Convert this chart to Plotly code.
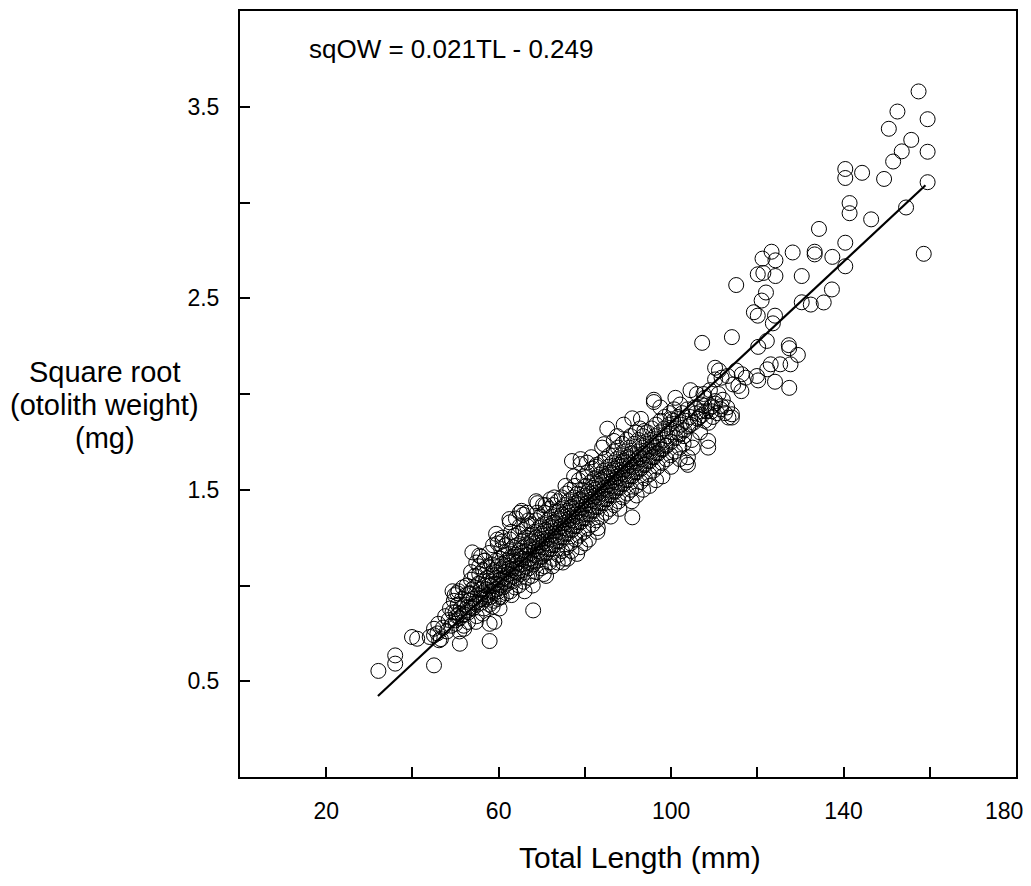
import plotly.graph_objects as go

# ---- regression line (from the printed equation) ----
SLOPE = 0.021
INTERCEPT = -0.249
FIT_TL = [32, 159]

TL_BAND = [
    46.0, 46.6,
    47.1, 47.6,
    48.0, 48.4, 48.7,
    49.0, 49.3, 49.6, 49.8,
    50.0, 50.3, 50.5, 50.7, 50.9,
    51.0, 51.2, 51.5, 51.7, 51.9,
    52.0, 52.2, 52.4, 52.6, 52.8, 52.9,
    53.0, 53.2, 53.4, 53.6, 53.8, 53.9,
    54.0, 54.2, 54.4, 54.5, 54.7, 54.8, 54.9,
    55.0, 55.2, 55.3, 55.5, 55.7, 55.8, 55.9,
    56.0, 56.1, 56.3, 56.4, 56.6, 56.7, 56.8, 56.9,
    57.0, 57.1, 57.3, 57.4, 57.6, 57.7, 57.8, 57.9,
    58.0, 58.1, 58.2, 58.4, 58.5, 58.6, 58.7, 58.8, 58.9,
    59.0, 59.1, 59.2, 59.4, 59.5, 59.6, 59.7, 59.8, 59.9,
    60.0, 60.1, 60.2, 60.3, 60.4, 60.5, 60.6, 60.7, 60.8, 60.9,
    61.0, 61.1, 61.2, 61.4, 61.5, 61.6, 61.7, 61.8, 61.9,
    62.0, 62.1, 62.2, 62.3, 62.4, 62.5, 62.6, 62.7, 62.8, 62.9,
    63.0, 63.1, 63.2, 63.4, 63.5, 63.6, 63.7, 63.8, 63.9,
    64.0, 64.1, 64.2, 64.3, 64.4, 64.5, 64.6, 64.7, 64.8, 64.9,
    65.0, 65.1, 65.2, 65.4, 65.5, 65.6, 65.7, 65.8, 65.9,
    66.0, 66.1, 66.2, 66.3, 66.4, 66.5, 66.6, 66.7, 66.8, 66.9,
    67.0, 67.1, 67.2, 67.3, 67.4, 67.5, 67.6, 67.7, 67.8, 67.9,
    68.0, 68.1, 68.2, 68.3, 68.4, 68.5, 68.6, 68.7, 68.8, 68.9,
    69.0, 69.1, 69.2, 69.4, 69.5, 69.6, 69.7, 69.8, 69.9,
    70.0, 70.1, 70.2, 70.3, 70.4, 70.5, 70.6, 70.7, 70.8, 70.9, 70.45,
    71.0, 71.1, 71.2, 71.4, 71.5, 71.6, 71.7, 71.8, 71.9,
    72.0, 72.1, 72.2, 72.3, 72.4, 72.5, 72.6, 72.7, 72.8, 72.9, 72.45,
    73.0, 73.1, 73.2, 73.4, 73.5, 73.6, 73.7, 73.8, 73.9,
    74.0, 74.1, 74.2, 74.3, 74.4, 74.5, 74.6, 74.7, 74.8, 74.9,
    75.0, 75.1, 75.2, 75.4, 75.5, 75.6, 75.7, 75.8, 75.9,
    76.0, 76.1, 76.2, 76.3, 76.4, 76.5, 76.6, 76.7, 76.8, 76.9,
    77.0, 77.1, 77.2, 77.4, 77.5, 77.6, 77.7, 77.8, 77.9,
    78.0, 78.1, 78.2, 78.3, 78.4, 78.5, 78.6, 78.7, 78.8, 78.9,
    79.0, 79.1, 79.2, 79.4, 79.5, 79.6, 79.7, 79.8, 79.9,
    80.0, 80.1, 80.2, 80.3, 80.4, 80.5, 80.6, 80.7, 80.8, 80.9,
    81.0, 81.1, 81.2, 81.4, 81.5, 81.6, 81.7, 81.8, 81.9,
    82.0, 82.1, 82.2, 82.3, 82.4, 82.5, 82.6, 82.7, 82.8, 82.9,
    83.0, 83.1, 83.2, 83.4, 83.5, 83.6, 83.7, 83.8, 83.9,
    84.0, 84.1, 84.2, 84.4, 84.5, 84.6, 84.7, 84.8, 84.9,
    85.0, 85.1, 85.2, 85.4, 85.5, 85.6, 85.7, 85.8, 85.9,
    86.0, 86.1, 86.2, 86.4, 86.5, 86.6, 86.7, 86.8, 86.9,
    87.0, 87.1, 87.2, 87.4, 87.5, 87.6, 87.7, 87.8, 87.9,
    88.0, 88.1, 88.2, 88.4, 88.5, 88.6, 88.7, 88.8, 88.9,
    89.0, 89.1, 89.2, 89.4, 89.5, 89.6, 89.7, 89.8, 89.9,
    90.0, 90.1, 90.2, 90.3, 90.4, 90.5, 90.6, 90.7, 90.8, 90.9,
    91.0, 91.1, 91.3, 91.4, 91.6, 91.7, 91.8, 91.9,
    92.0, 92.1, 92.3, 92.4, 92.6, 92.7, 92.8, 92.9,
    93.0, 93.2, 93.3, 93.5, 93.6, 93.8, 93.9,
    94.0, 94.2, 94.3, 94.5, 94.6, 94.8, 94.9,
    95.0, 95.2, 95.3, 95.5, 95.6, 95.8, 95.9,
    96.0, 96.2, 96.3, 96.5, 96.6, 96.8, 96.9,
    97.0, 97.2, 97.4, 97.5, 97.7, 97.9,
    98.0, 98.2, 98.4, 98.5, 98.7, 98.9,
    99.0, 99.2, 99.5, 99.7, 99.9,
    100.0, 100.2, 100.5, 100.7, 100.9,
    101.0, 101.3, 101.6, 101.9,
    102.0, 102.3, 102.6, 102.9,
    103.0, 103.4, 103.8,
    104.0, 104.4, 104.8,
    105.2, 105.7,
    106.2, 106.7,
    107.2, 107.7,
    108.2, 108.7,
    109.2, 109.7,
    110.2, 110.7,
    111.5,
    112.5,
]
SQ_BAND = [
    0.80, 0.72,
    0.78, 0.84,
    0.76, 0.82, 0.88,
    0.79, 0.86, 0.92, 0.95,
    0.80, 0.84, 0.90, 0.97, 0.76,
    0.83, 0.88, 0.93, 0.99, 0.79,
    0.85, 0.90, 0.95, 1.00, 0.87, 0.81,
    0.86, 0.92, 0.96, 1.03, 0.89, 0.98,
    0.88, 0.93, 0.99, 1.05, 0.91, 1.12, 0.84,
    0.90, 0.95, 1.01, 1.06, 0.93, 0.98, 1.15,
    0.91, 0.96, 1.02, 1.08, 0.88, 1.00, 1.13, 0.94,
    0.93, 0.98, 1.04, 1.10, 0.95, 1.00, 1.17, 0.90,
    0.94, 1.00, 1.05, 1.11, 0.97, 1.02, 1.21, 0.92, 1.08,
    0.96, 1.01, 1.07, 1.13, 0.98, 1.04, 1.24, 0.93, 1.10,
    0.97, 1.03, 1.08, 1.14, 1.00, 1.05, 1.19, 0.94, 1.11, 1.25,
    0.99, 1.04, 1.10, 1.16, 1.02, 1.07, 1.21, 0.96, 1.13,
    1.01, 1.06, 1.12, 1.18, 1.03, 1.09, 1.24, 0.97, 1.15, 1.28,
    1.02, 1.08, 1.13, 1.20, 1.05, 1.10, 1.26, 0.99, 1.16,
    1.04, 1.09, 1.15, 1.21, 1.07, 1.12, 1.27, 1.00, 1.18, 1.31,
    1.06, 1.11, 1.17, 1.23, 1.08, 1.14, 1.29, 1.02, 1.20,
    1.07, 1.13, 1.18, 1.25, 1.10, 1.16, 1.31, 1.04, 1.21, 1.34,
    1.09, 1.14, 1.20, 1.26, 1.12, 1.17, 1.32, 1.05, 1.23, 1.00,
    1.11, 1.16, 1.22, 1.28, 1.13, 1.19, 1.34, 1.07, 1.25, 1.38,
    1.13, 1.18, 1.24, 1.30, 1.15, 1.21, 1.36, 1.09, 1.27,
    1.15, 1.20, 1.26, 1.32, 1.17, 1.23, 1.38, 1.10, 1.29, 1.42, 1.06,
    1.17, 1.22, 1.28, 1.34, 1.19, 1.25, 1.40, 1.12, 1.31,
    1.19, 1.24, 1.30, 1.36, 1.21, 1.27, 1.42, 1.14, 1.33, 1.46, 1.10,
    1.21, 1.26, 1.32, 1.38, 1.23, 1.29, 1.44, 1.16, 1.35,
    1.23, 1.28, 1.34, 1.40, 1.25, 1.31, 1.46, 1.18, 1.37, 1.12,
    1.25, 1.30, 1.36, 1.42, 1.27, 1.33, 1.48, 1.20, 1.39,
    1.27, 1.32, 1.38, 1.44, 1.29, 1.35, 1.50, 1.22, 1.41, 1.18,
    1.29, 1.34, 1.40, 1.46, 1.31, 1.37, 1.52, 1.24, 1.43,
    1.31, 1.36, 1.42, 1.48, 1.33, 1.39, 1.55, 1.26, 1.45, 1.20,
    1.33, 1.38, 1.44, 1.50, 1.35, 1.41, 1.57, 1.28, 1.47,
    1.35, 1.40, 1.46, 1.52, 1.37, 1.43, 1.59, 1.30, 1.49, 1.24,
    1.37, 1.42, 1.48, 1.54, 1.39, 1.45, 1.61, 1.32, 1.51,
    1.39, 1.44, 1.50, 1.56, 1.41, 1.47, 1.62, 1.34, 1.53, 1.28,
    1.41, 1.46, 1.52, 1.58, 1.43, 1.49, 1.64, 1.36, 1.55,
    1.43, 1.48, 1.54, 1.60, 1.45, 1.51, 1.66, 1.38, 1.57,
    1.45, 1.50, 1.56, 1.62, 1.47, 1.53, 1.68, 1.40, 1.59,
    1.47, 1.52, 1.58, 1.64, 1.49, 1.55, 1.70, 1.42, 1.61,
    1.49, 1.54, 1.60, 1.66, 1.51, 1.57, 1.72, 1.44, 1.63,
    1.51, 1.56, 1.62, 1.68, 1.53, 1.59, 1.74, 1.46, 1.65,
    1.53, 1.58, 1.64, 1.70, 1.55, 1.61, 1.76, 1.48, 1.67,
    1.55, 1.60, 1.66, 1.72, 1.57, 1.63, 1.78, 1.50, 1.69, 1.44,
    1.57, 1.62, 1.68, 1.74, 1.59, 1.65, 1.80, 1.52,
    1.59, 1.64, 1.70, 1.76, 1.61, 1.67, 1.82, 1.54,
    1.61, 1.66, 1.72, 1.78, 1.63, 1.69, 1.56,
    1.63, 1.68, 1.74, 1.80, 1.65, 1.71, 1.58,
    1.65, 1.70, 1.76, 1.82, 1.67, 1.73, 1.60,
    1.67, 1.72, 1.78, 1.84, 1.69, 1.75, 1.62,
    1.69, 1.74, 1.80, 1.86, 1.71, 1.64,
    1.71, 1.76, 1.82, 1.88, 1.73, 1.66,
    1.73, 1.78, 1.84, 1.90, 1.68,
    1.75, 1.80, 1.86, 1.92, 1.70,
    1.77, 1.82, 1.88, 1.72,
    1.79, 1.84, 1.90, 1.74,
    1.81, 1.86, 1.92,
    1.83, 1.88, 1.76,
    1.85, 1.90,
    1.87, 1.80,
    1.89, 1.94,
    1.91, 1.85,
    1.93, 1.88,
    1.95, 1.90,
    1.92,
    1.90,
]

# ---- irregular points along the band's upper and lower edges ----
TL_EDGE = [
    64.0, 66.5, 69.0, 72.0, 75.5, 77.5, 84.0, 87.5, 89.0, 93.0,
    97.5, 101.0, 104.5, 106.0,
    63.0, 66.0, 71.0, 76.0, 80.0, 83.0, 86.0, 88.0, 92.0, 93.5,
    95.0, 96.5, 98.0, 100.0, 102.0, 105.0,
    101.5, 103.0, 104.5, 105.5, 106.5, 107.5, 109.0, 111.0, 112.0, 113.0,
]
SQ_EDGE = [
    1.35, 1.38, 1.43, 1.45, 1.52, 1.57, 1.72, 1.78, 1.84, 1.87,
    1.93, 1.98, 2.02, 2.00,
    0.95, 0.97, 1.05, 1.14, 1.22, 1.30, 1.36, 1.40, 1.47, 1.50,
    1.52, 1.55, 1.57, 1.62, 1.66, 1.72,
    1.80, 1.78, 1.84, 1.93, 1.88, 2.00, 2.02, 2.00, 1.97, 1.93,
]

TL_OUT = [
    157.4, 152.5, 159.5, 150.5, 155.7, 153.5, 159.5, 151.5, 140.4, 144.3,
    140.4, 149.4, 159.5, 141.4, 141.4, 146.4, 154.5, 134.3, 140.4, 158.6,
    123.3, 121.2, 124.2, 128.2, 133.3, 133.3, 137.4, 140.4, 120.1, 121.4,
    124.2, 130.3, 115.1, 137.3, 122.0, 121.0, 130.3, 132.4, 135.4, 119.2,
    120.1, 124.1, 123.6, 107.2, 114.1, 120.2, 122.2, 127.3, 127.4, 129.4,
    125.3, 127.7, 122.3, 123.1, 111.1, 115.1, 110.2, 113.1, 117.3, 120.2,
    124.1, 127.4, 114.4, 116.3, 96.0, 96.0, 102.1, 107.0, 109.5, 110.2,
    111.7, 116.4, 119.9, 115.6, 91.0, 85.2, 86.7, 93.8, 100.0, 108.6,
    108.6, 103.9, 103.9, 114.1, 91.0, 103.5, 84.4, 107.8, 110.2, 111.7,
    109.4, 113.3, 114.1, 107.8, 107.0,
    32.1, 36.0, 36.0, 45.0, 39.9, 41.1, 44.0, 45.0, 45.0, 46.2,
    45.8, 51.0, 57.9, 50.0, 50.0, 50.8, 52.0, 54.7, 59.0, 49.3,
    50.4, 52.8, 51.6, 53.2, 56.3, 57.9, 68.0, 53.6, 55.5, 62.6,
    64.9, 65.7, 59.4, 59.8, 60.9, 78.2, 73.7, 75.2, 77.0, 79.0,
    81.5, 82.7, 68.7, 70.3, 62.5, 65.3, 53.9, 55.5, 56.7, 60.2,
    58.6, 60.2, 79.0, 80.5,
]
SQ_OUT = [
    3.58, 3.475, 3.435, 3.385, 3.327, 3.267, 3.265, 3.214, 3.175, 3.155,
    3.128, 3.123, 3.106, 2.997, 2.944, 2.912, 2.974, 2.862, 2.790, 2.732,
    2.743, 2.707, 2.698, 2.739, 2.743, 2.729, 2.716, 2.667, 2.625, 2.632,
    2.616, 2.616, 2.569, 2.546, 2.530, 2.488, 2.479, 2.467, 2.478, 2.427,
    2.409, 2.409, 2.369, 2.267, 2.297, 2.246, 2.277, 2.255, 2.239, 2.204,
    2.155, 2.155, 2.129, 2.155, 2.123, 2.123, 2.076, 2.094, 2.085, 2.071,
    2.064, 2.032, 2.050, 2.015, 1.958, 1.970, 1.945, 1.945, 1.936, 2.137,
    2.085, 2.103, 2.094, 2.042, 1.873, 1.819, 1.755, 1.807, 1.868, 1.720,
    1.755, 1.630, 1.670, 1.877, 1.356, 1.642, 1.738, 1.980, 1.963, 1.937,
    1.910, 1.877, 1.894, 1.860, 1.910,
    0.554, 0.635, 0.592, 0.583, 0.731, 0.722, 0.731, 0.774, 0.740, 0.714,
    0.750, 0.696, 0.710, 0.818, 0.860, 0.850, 0.774, 0.810, 0.810, 0.970,
    0.960, 0.887, 0.844, 0.957, 0.853, 0.800, 0.870, 1.070, 1.156, 1.330,
    1.380, 1.370, 1.270, 1.220, 1.230, 1.165, 1.120, 1.140, 1.650, 1.660,
    1.670, 1.630, 1.440, 1.420, 1.347, 1.390, 1.173, 1.100, 1.130, 0.940,
    0.890, 0.880, 1.634, 1.642,
]

X_TICKS = [20, 40, 60, 80, 100, 120, 140, 160]
X_TICK_TEXT = ["20", "", "60", "", "100", "", "140", ""]
X_END_TICK = 180
X_END_TEXT = "180"
Y_TICKS = [0.5, 1.0, 1.5, 2.0, 2.5, 3.0, 3.5]
Y_TICK_TEXT = ["0.5", "", "1.5", "", "2.5", "", "3.5"]
Y_TITLE_LINES = ["Square root", "(otolith weight)", "(mg)"]
X_TITLE = "Total Length (mm)"
EQUATION = "sqOW = 0.021TL - 0.249"

assert len(TL_BAND) == len(SQ_BAND), (len(TL_BAND), len(SQ_BAND))
assert len(TL_EDGE) == len(SQ_EDGE), (len(TL_EDGE), len(SQ_EDGE))
assert len(TL_OUT) == len(SQ_OUT), (len(TL_OUT), len(SQ_OUT))

TL = TL_BAND + TL_EDGE + TL_OUT
SQOW = SQ_BAND + SQ_EDGE + SQ_OUT
FIT_SQ = [SLOPE * x + INTERCEPT for x in FIT_TL]

FONT = "Liberation Sans, Arial, sans-serif"

fig = go.Figure()
fig.add_trace(go.Scatter(
    x=TL, y=SQOW, mode="markers",
    marker=dict(symbol="circle-open", size=15, color="black", line=dict(width=1)),
    showlegend=False, hoverinfo="skip",
))
fig.add_trace(go.Scatter(
    x=FIT_TL, y=FIT_SQ, mode="lines",
    line=dict(color="black", width=2.2), showlegend=False,
))

axis_common = dict(
    ticks="inside", ticklen=10, tickwidth=1.5, tickcolor="black",
    showline=True, linewidth=2, linecolor="black", mirror=True,
    showgrid=False, zeroline=False, tickfont=dict(size=23),
)

annotations = [
    dict(x=15.5, y=3.80, xref="x", yref="y", text=EQUATION,
         showarrow=False, xanchor="left", yanchor="middle", font=dict(size=26)),
    dict(x=0.516, y=-0.105, xref="paper", yref="paper", text=X_TITLE,
         showarrow=False, xanchor="center", yanchor="middle", font=dict(size=30)),
    # end label of the x axis, nudged left so it stays inside the page
    dict(x=X_END_TICK, y=0, xref="x", yref="paper", text=X_END_TEXT,
         showarrow=False, xanchor="center", yanchor="top", xshift=-12, yshift=-19,
         font=dict(size=23)),
]
for line_text, ypos in zip(Y_TITLE_LINES, [0.5286, 0.4857, 0.4427]):
    annotations.append(dict(
        x=-0.174, y=ypos, xref="paper", yref="paper", text=line_text,
        showarrow=False, xanchor="center", yanchor="middle", font=dict(size=29),
    ))

fig.update_layout(
    width=1031, height=886,
    margin=dict(l=240, r=15, t=9, b=109),
    plot_bgcolor="white", paper_bgcolor="white",
    font=dict(family=FONT, color="black", size=22),
    xaxis=dict(range=[0, 180], tickvals=X_TICKS, ticktext=X_TICK_TEXT,
               ticklabelstandoff=12, **axis_common),
    yaxis=dict(range=[0, 4], tickvals=Y_TICKS, ticktext=Y_TICK_TEXT,
               ticklabelstandoff=14, **axis_common),
    annotations=annotations,
)

fig.write_html("out.html")
